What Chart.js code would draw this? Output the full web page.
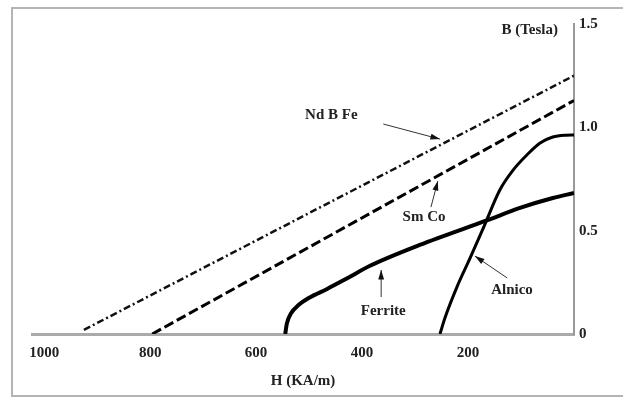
<!DOCTYPE html>
<html>
<head>
<meta charset="utf-8">
<script src="https://cdn.jsdelivr.net/npm/chart.js@4"></script>
<style>
  html, body { margin: 0; padding: 0; background: #fff; }
  #wrap { width: 623px; height: 397px; }
</style>
</head>
<body>
<div id="wrap"><canvas id="chart" width="623" height="397"></canvas></div>
<script>
// H in KA/m, B in Tesla
const ndbfeH = [925, 0];
const ndbfeB = [0.02, 1.25];
const smcoH = [796, 0];
const smcoB = [0, 1.13];
const ferriteH = [545, 542, 534, 520, 500, 466, 428, 385, 291, 162, 102, 40, 0];
const ferriteB = [0, 0.05, 0.1, 0.14, 0.175, 0.218, 0.27, 0.33, 0.431, 0.552, 0.61, 0.658, 0.682];
const alnicoH = [253, 243, 221, 196, 170, 140, 115, 89, 64, 40, 15, 0];
const alnicoB = [0, 0.082, 0.227, 0.368, 0.52, 0.697, 0.793, 0.866, 0.924, 0.953, 0.962, 0.963];

const hTicks = [1000, 800, 600, 400, 200];
const hTickLabels = ['1000', '800', '600', '400', '200'];
const bTicks = [0, 0.5, 1.0, 1.5];
const bTickLabels = ['0', '0.5', '1.0', '1.5'];

const serif = '"Liberation Serif", "DejaVu Serif", serif';

function pts(xs, ys) {
    return xs.map((x, i) => ({ x: x, y: ys[i] }));
}

// labels with their arrows, in chart units (H, B)
const notes = [
    { text: 'Nd B Fe', at: [458, 1.06], from: [360, 1.016], to: [253, 0.943] },
    { text: 'Sm Co', at: [283, 0.566], from: [270, 0.614], to: [257, 0.74] },
    { text: 'Ferrite', at: [360, 0.111], from: [364, 0.179], to: [364, 0.31] },
    { text: 'Alnico', at: [117, 0.213], from: [126, 0.271], to: [187, 0.377] }
];

const decorations = {
    id: 'decorations',
    beforeDraw(chart) {
        const ctx = chart.ctx;
        ctx.save();
        // scanned figure frame
        ctx.strokeStyle = '#b4b4b4';
        ctx.lineWidth = 2;
        ctx.beginPath();
        ctx.moveTo(626, 8);
        ctx.lineTo(12, 8);
        ctx.lineTo(12, 396);
        ctx.lineTo(626, 396);
        ctx.stroke();
        ctx.restore();
    },
    afterDraw(chart) {
        const ctx = chart.ctx;
        const xs = chart.scales.x, ys = chart.scales.y;
        const px = p => [xs.getPixelForValue(p[0]), ys.getPixelForValue(p[1])];
        ctx.save();
        ctx.font = 'bold 15px ' + serif;
        ctx.textAlign = 'center';
        ctx.textBaseline = 'middle';
        notes.forEach(n => {
            const t = px(n.at);
            ctx.fillStyle = '#222';
            ctx.fillText(n.text, t[0], t[1]);
            const a = px(n.from), b = px(n.to);
            ctx.strokeStyle = '#333';
            ctx.lineWidth = 1;
            ctx.beginPath();
            ctx.moveTo(a[0], a[1]);
            ctx.lineTo(b[0], b[1]);
            ctx.stroke();
            const ang = Math.atan2(b[1] - a[1], b[0] - a[0]);
            ctx.beginPath();
            ctx.moveTo(b[0], b[1]);
            ctx.lineTo(b[0] - 10 * Math.cos(ang - 0.3), b[1] - 10 * Math.sin(ang - 0.3));
            ctx.lineTo(b[0] - 10 * Math.cos(ang + 0.3), b[1] - 10 * Math.sin(ang + 0.3));
            ctx.closePath();
            ctx.fillStyle = '#111';
            ctx.fill();
        });
        // B axis caption next to the top of the axis
        ctx.fillStyle = '#222';
        ctx.textAlign = 'right';
        ctx.fillText('B (Tesla)', chart.chartArea.right - 16, chart.chartArea.top + 6);
        ctx.restore();
    }
};

new Chart(document.getElementById('chart'), {
    type: 'line',
    data: {
        datasets: [
            {
                label: 'Nd B Fe',
                data: pts(ndbfeH, ndbfeB),
                borderColor: '#111',
                borderWidth: 2.5,
                borderDash: [7, 3, 2, 3]
            },
            {
                label: 'Sm Co',
                data: pts(smcoH, smcoB),
                borderColor: '#000',
                borderWidth: 3,
                borderDash: [10, 4]
            },
            {
                label: 'Ferrite',
                data: pts(ferriteH, ferriteB),
                borderColor: '#000',
                borderWidth: 4,
                cubicInterpolationMode: 'monotone'
            },
            {
                label: 'Alnico',
                data: pts(alnicoH, alnicoB),
                borderColor: '#000',
                borderWidth: 3,
                cubicInterpolationMode: 'monotone'
            }
        ]
    },
    options: {
        responsive: false,
        animation: false,
        events: [],
        elements: { point: { radius: 0 } },
        layout: { padding: { left: 32, top: 24, right: 0, bottom: 0 } },
        plugins: {
            legend: { display: false },
            tooltip: { enabled: false }
        },
        scales: {
            x: {
                type: 'linear',
                reverse: true,
                min: 0,
                max: 1023,
                afterBuildTicks: s => { s.ticks = hTicks.map(v => ({ value: v })); },
                afterFit: s => { s.height = 63; },
                grid: { display: false, drawTicks: false },
                border: { color: '#aaa', width: 3 },
                ticks: {
                    color: '#222',
                    padding: 10,
                    maxRotation: 0,
                    callback: (v, i) => hTickLabels[i],
                    font: { family: serif, size: 15, weight: 'bold' }
                },
                title: {
                    display: true,
                    text: 'H (KA/m)',
                    color: '#222',
                    padding: { top: 0, bottom: 7 },
                    font: { family: serif, size: 15, weight: 'bold' }
                }
            },
            y: {
                type: 'linear',
                position: 'right',
                min: 0,
                max: 1.5,
                afterBuildTicks: s => { s.ticks = bTicks.map(v => ({ value: v })); },
                afterFit: s => { s.width = 49; },
                grid: { display: false, drawTicks: false },
                border: { color: '#999', width: 2 },
                ticks: {
                    color: '#222',
                    padding: 5,
                    callback: (v, i) => bTickLabels[i],
                    font: { family: serif, size: 15, weight: 'bold' }
                }
            }
        }
    },
    plugins: [decorations]
});
</script>
</body>
</html>
